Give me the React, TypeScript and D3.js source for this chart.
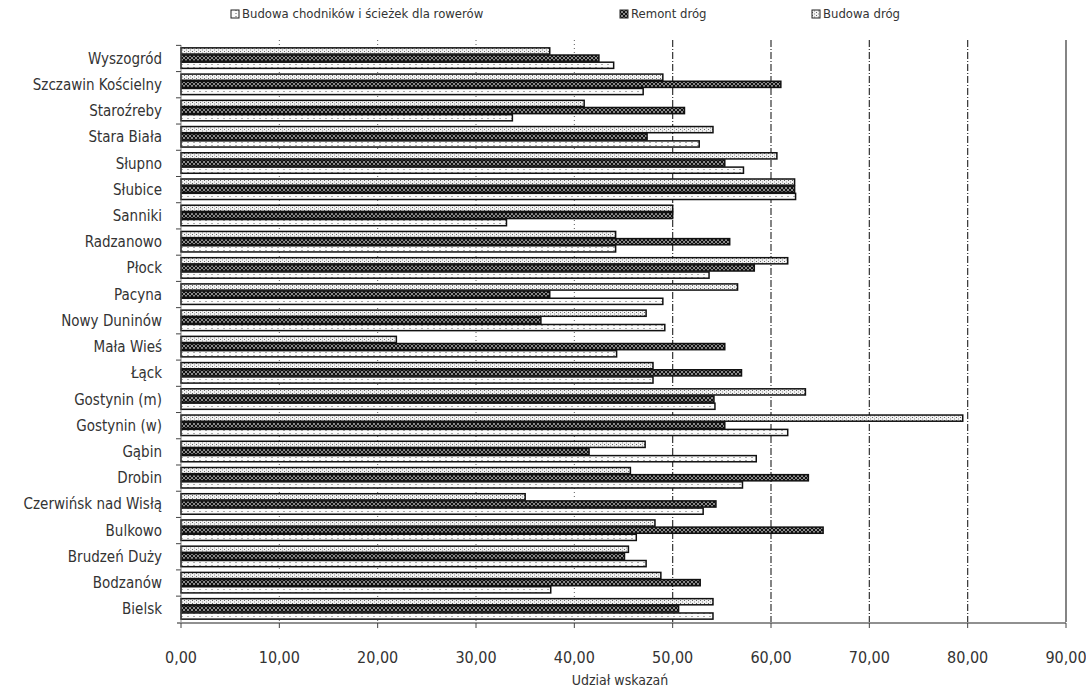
import React from "react";
import * as d3 from "d3";

const categories = [
  "Wyszogród", "Szczawin Kościelny", "Staroźreby", "Stara Biała", "Słupno", "Słubice",
  "Sanniki", "Radzanowo", "Płock", "Pacyna", "Nowy Duninów", "Mała Wieś", "Łąck",
  "Gostynin (m)", "Gostynin (w)", "Gąbin", "Drobin", "Czerwińsk nad Wisłą", "Bulkowo",
  "Brudzeń Duży", "Bodzanów", "Bielsk",
];

// bottom bar in each group
const budowaChodnikow = [44.0, 47.0, 33.7, 52.7, 57.2, 62.5, 33.1, 44.2, 53.7, 49.0, 49.2, 44.3, 48.0, 54.3, 61.7, 58.5, 57.1, 53.1, 46.3, 47.3, 37.6, 54.1];
// middle bar
const remontDrog = [42.5, 61.0, 51.2, 47.4, 55.3, 62.4, 50.0, 55.8, 58.3, 37.5, 36.6, 55.3, 57.0, 54.2, 55.3, 41.5, 63.8, 54.4, 65.3, 45.1, 52.8, 50.6];
// top bar
const budowaDrog = [37.5, 49.0, 41.0, 54.1, 60.6, 62.4, 50.0, 44.2, 61.7, 56.6, 47.3, 21.9, 48.0, 63.5, 79.5, 47.2, 45.7, 35.0, 48.2, 45.5, 48.8, 54.1];

const xTicks = [0, 10, 20, 30, 40, 50, 60, 70, 80, 90];
const seriesNames = ["Budowa chodników i ścieżek dla rowerów", "Remont dróg", "Budowa dróg"];
const xTitle = "Udział wskazań";

const FONT = "'Liberation Sans Narrow', 'DejaVu Sans Condensed', 'Liberation Sans', sans-serif";

export default function App() {
  const W = 1086, H = 690;
  const x = d3.scaleLinear().domain([0, 90]).range([181, 1066]);
  const y = d3.scaleBand().domain(categories).range([45, 622]).paddingInner(0.18).paddingOuter(0.09);
  // within group: top = Budowa dróg, middle = Remont dróg, bottom = Budowa chodników
  const sub = d3.scaleBand().domain(["top", "mid", "bot"]).range([0, y.bandwidth()]);
  const fmt = (v: number) => d3.format(".2f")(v).replace(".", ",");

  const series = [
    { key: "top", values: budowaDrog, fill: "url(#pTop)" },
    { key: "mid", values: remontDrog, fill: "url(#pMid)" },
    { key: "bot", values: budowaChodnikow, fill: "url(#pBot)" },
  ];

  const legend = [
    { name: seriesNames[0], fill: "url(#pBot)", x: 231 },
    { name: seriesNames[1], fill: "url(#pMid)", x: 620 },
    { name: seriesNames[2], fill: "url(#pTop)", x: 812 },
  ];

  return (
    <svg width={W} height={H} style={{ position: "absolute", left: 0, top: 0, background: "#fff" }}>
      <defs>
        <pattern id="pTop" width="4" height="3" patternUnits="userSpaceOnUse">
          <rect width="4" height="3" fill="#f2f2f2" />
          <rect x="0" y="0" width="1" height="1" fill="#666" />
          <rect x="2" y="1.5" width="1" height="1" fill="#888" />
        </pattern>
        <pattern id="pMid" width="4" height="4" patternUnits="userSpaceOnUse">
          <rect width="4" height="4" fill="#8a8a8a" />
          <path d="M0,0 L4,4 M4,0 L0,4" stroke="#111" strokeWidth="1" />
        </pattern>
        <pattern id="pBot" width="6" height="3" patternUnits="userSpaceOnUse">
          <rect width="6" height="3" fill="#fbfbfb" />
          <rect x="1" y="1" width="2" height="1" fill="#aaa" />
        </pattern>
      </defs>

      {/* legend */}
      {legend.map((l) => (
        <g key={l.name}>
          <rect x={l.x} y={10} width={8} height={8} fill={l.fill} stroke="#222" strokeWidth={1} />
          <text x={l.x + 11} y={18} fontFamily={FONT} fontSize={13} fill="#333">{l.name}</text>
        </g>
      ))}

      {/* gridlines */}
      {xTicks.slice(1).map((t) => (
        <line key={t} x1={x(t)} x2={x(t)} y1={40} y2={622}
          stroke="#333" strokeWidth={t >= 50 ? 1.2 : 0.8}
          strokeDasharray={t === 90 ? "none" : t >= 50 ? "7,2,1,2" : "1,3"} />
      ))}

      {/* bars */}
      {series.map((s) =>
        categories.map((c, i) => (
          <rect key={s.key + c} x={x(0)} y={(y(c) as number) + (sub(s.key) as number) + 0.5}
            width={x(s.values[i]) - x(0)} height={sub.bandwidth() - 1}
            fill={s.fill} stroke="#111" strokeWidth={1.5} />
        ))
      )}

      {/* y axis */}
      <line x1={x(0)} x2={x(0)} y1={45} y2={622} stroke="#666" strokeWidth={0.8} />
      {categories.map((c) => (
        <line key={"tk" + c} x1={x(0) - 5} x2={x(0)} y1={(y(c) as number) - 2} y2={(y(c) as number) - 2} stroke="#444" />
      ))}
      {categories.map((c) => (
        <text key={"l" + c} x={162} y={(y(c) as number) + y.bandwidth() / 2 + 1}
          textAnchor="end" dominantBaseline="middle" fontFamily={FONT} fontSize={15} fill="#333">
          {c}
        </text>
      ))}

      {/* x axis */}
      <line x1={x(0) - 4} x2={x(90)} y1={623} y2={623} stroke="#222" strokeWidth={1.2} />
      {xTicks.map((t) => (
        <g key={"x" + t}>
          <line x1={x(t)} x2={x(t)} y1={623} y2={628} stroke="#444" />
          <text x={x(t)} y={663} textAnchor="middle" fontFamily={FONT} fontSize={16} fill="#333">{fmt(t)}</text>
        </g>
      ))}
      <text x={620} y={685} textAnchor="middle" fontFamily={FONT} fontSize={14} fill="#333">{xTitle}</text>
    </svg>
  );
}
